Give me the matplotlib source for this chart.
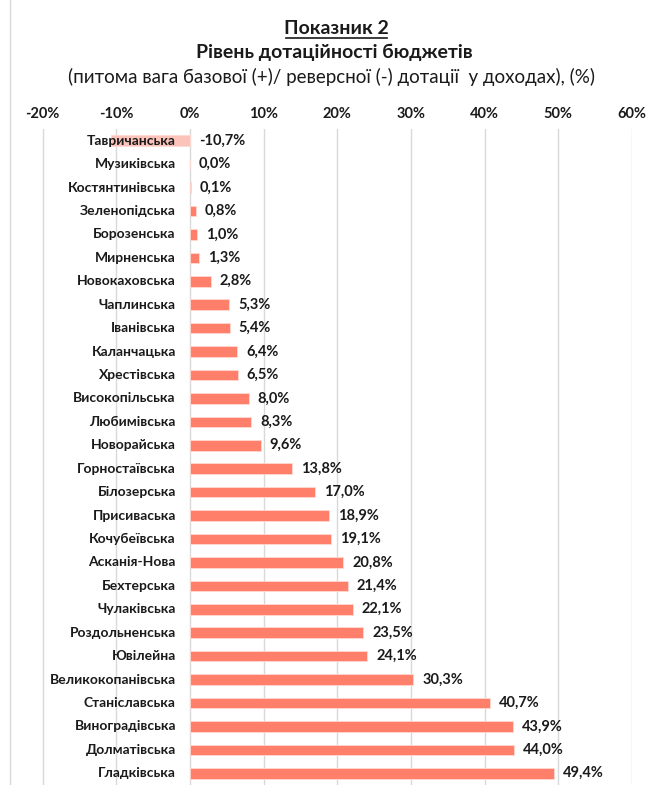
import matplotlib
matplotlib.use("Agg")
import matplotlib.pyplot as plt
from matplotlib.lines import Line2D
from matplotlib.transforms import offset_copy

categories = ["Тавричанська", "Музиківська", "Костянтинівська", "Зеленопідська",
              "Борозенська", "Мирненська", "Новокаховська", "Чаплинська",
              "Іванівська", "Каланчацька", "Хрестівська", "Високопільська",
              "Любимівська", "Новорайська", "Горностаївська", "Білозерська",
              "Присиваська", "Кочубеївська", "Асканія-Нова", "Бехтерська",
              "Чулаківська", "Роздольненська", "Ювілейна", "Великокопанівська",
              "Станіславська", "Виноградівська", "Долматівська", "Гладківська"]
values = [-10.7, 0.0, 0.1, 0.8, 1.0, 1.3, 2.8, 5.3, 5.4, 6.4, 6.5, 8.0, 8.3, 9.6,
          13.8, 17.0, 18.9, 19.1, 20.8, 21.4, 22.1, 23.5, 24.1, 30.3, 40.7, 43.9,
          44.0, 49.4]
xticks = [-20, -10, 0, 10, 20, 30, 40, 50, 60]
xtick_labels = ["-20%", "-10%", "0%", "10%", "20%", "30%", "40%", "50%", "60%"]

plt.rcParams['font.family'] = ['Lato', 'DejaVu Sans']

W, H = 663, 785
fig = plt.figure(figsize=(W / 100, H / 100), dpi=100)
ax = fig.add_axes([42.5 / W, 0 / H, (632 - 42.5) / W, (785 - 129) / H])

n = len(categories)
ys = list(range(n))
colors = ["#FBC3BA" if v < 0 else "#FF7F6A" for v in values]
ax.barh(ys, values, height=0.45, color=colors, edgecolor="#FFD9D2",
        linewidth=0.6, zorder=2)

ax.set_xlim(-20, 60)
ax.set_ylim(n - 0.5, -0.5)
ax.set_xticks(xticks)
ax.set_xticklabels(xtick_labels, fontweight="bold", fontsize=10.5, color="#1a1a1a")
ax.xaxis.tick_top()
ax.tick_params(axis="x", length=0, pad=6)
ax.set_yticks([])
ax.grid(axis="x", color="#D9D9D9", linewidth=1.0, zorder=0)
for s in ax.spines.values():
    s.set_visible(False)

lab_tr = offset_copy(ax.transData, fig=fig, x=-14, y=0, units="dots")
val_tr = offset_copy(ax.transData, fig=fig, x=9, y=0, units="dots")
for y, c, v in zip(ys, categories, values):
    ax.text(0, y, c, transform=lab_tr, ha="right", va="center",
            fontsize=10, fontweight="bold", color="#1a1a1a", zorder=3)
    ax.text(max(v, 0), y, f"{v:.1f}%".replace(".", ","), transform=val_tr,
            ha="left", va="center", fontsize=10.5, fontweight="bold",
            color="#1a1a1a", zorder=3)

fig.text(336 / W, 1 - 28 / H, "Показник 2", ha="center", va="center",
         fontsize=14, fontweight="bold", color="#1a1a1a")
fig.text(334 / W, 1 - 52 / H, "Рівень дотаційності бюджетів", ha="center",
         va="center", fontsize=14, fontweight="bold", color="#1a1a1a")
fig.text(332 / W, 1 - 77 / H,
         "(питома вага базової (+)/ реверсної (-) дотації  у доходах), (%)",
         ha="center", va="center", fontsize=13.5, color="#1a1a1a")
# underline of first title line
fig.add_artist(Line2D([286 / W, 387 / W], [1 - 38 / H, 1 - 38 / H],
                      color="#1a1a1a", linewidth=1.2))
# chart area border (left)
fig.add_artist(Line2D([10 / W, 10 / W], [0, 1], color="#D9D9D9", linewidth=1.0))

fig.savefig("out.png", dpi=100)
